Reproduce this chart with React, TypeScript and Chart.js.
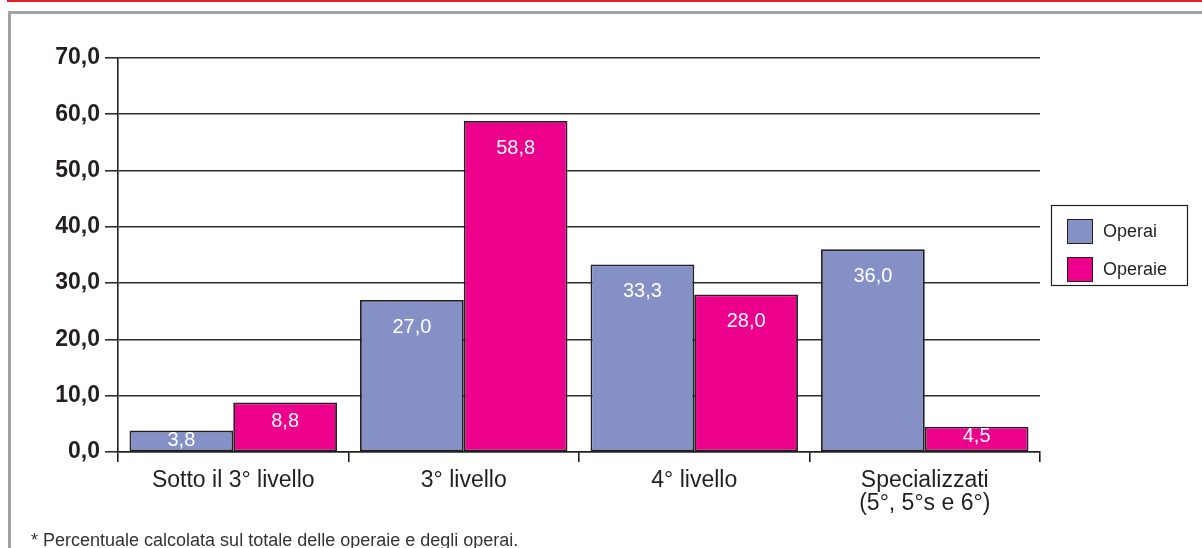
import React, { useEffect, useRef } from "react";
import { Chart, registerables } from "chart.js";

Chart.register(...registerables);

const categories: (string | string[])[] = [
  "Sotto il 3° livello",
  "3° livello",
  "4° livello",
  ["Specializzati", "(5°, 5°s e 6°)"],
];
const operai = [3.8, 27.0, 33.3, 36.0];
const operaie = [8.8, 58.8, 28.0, 4.5];
const seriesNames = ["Operai", "Operaie"];
const yTicks = [0, 10, 20, 30, 40, 50, 60, 70];
const footnote = "* Percentuale calcolata sul totale delle operaie e degli operai.";

const BLUE = "#8590C7";
const PINK = "#EC008C";
const DARK = "#231F20";
const FONT = "'Liberation Sans', Arial, Helvetica, sans-serif";

const fmt = (v: number) => v.toFixed(1).replace(".", ",");

const barLabels = {
  id: "barLabels",
  afterDatasetsDraw(chart: any) {
    const ctx = chart.ctx;
    ctx.save();
    ctx.fillStyle = "#ffffff";
    ctx.font = `20px ${FONT}`;
    ctx.textAlign = "center";
    ctx.textBaseline = "middle";
    chart.data.datasets.forEach((ds: any, di: number) => {
      const meta = chart.getDatasetMeta(di);
      meta.data.forEach((el: any, i: number) => {
        const h = el.base - el.y;
        const off = Math.min(27, Math.max(10, h * 0.4));
        ctx.fillText(fmt(ds.data[i]), el.x, el.y + off);
      });
    });
    ctx.restore();
  },
};

const boxLegend = {
  id: "boxLegend",
  afterDraw(chart: any) {
    const ctx = chart.ctx;
    ctx.save();
    ctx.strokeStyle = DARK;
    ctx.lineWidth = 1.2;
    ctx.strokeRect(1051.5, 205.5, 136, 80);
    chart.data.datasets.forEach((ds: any, i: number) => {
      const y = 219 + i * 38;
      ctx.fillStyle = ds.backgroundColor;
      ctx.fillRect(1067, y, 26, 25);
      ctx.strokeStyle = DARK;
      ctx.lineWidth = 1;
      ctx.strokeRect(1067.5, y + 0.5, 25, 24);
      ctx.fillStyle = DARK;
      ctx.font = `18px ${FONT}`;
      ctx.textAlign = "left";
      ctx.textBaseline = "middle";
      ctx.fillText(ds.label, 1103, y + 13);
    });
    ctx.restore();
  },
};

export default function App() {
  const ref = useRef<HTMLCanvasElement>(null);
  useEffect(() => {
    if (!ref.current) return;
    const chart = new Chart(ref.current, {
      type: "bar",
      data: {
        labels: categories,
        datasets: [
          {
            label: seriesNames[0],
            data: operai,
            backgroundColor: BLUE,
            borderColor: DARK,
            borderWidth: 1.8,
            borderSkipped: false,
          },
          {
            label: seriesNames[1],
            data: operaie,
            backgroundColor: PINK,
            borderColor: DARK,
            borderWidth: 1.8,
            borderSkipped: false,
          },
        ],
      },
      options: {
        animation: false,
        responsive: false,
        devicePixelRatio: 1,
        layout: { padding: { left: 0, right: 162, top: 58, bottom: 0 } },
        plugins: { legend: { display: false }, tooltip: { enabled: false } },
        datasets: { bar: { categoryPercentage: 0.9, barPercentage: 1 } },
        scales: {
          x: {
            offset: true,
            grid: {
              offset: true,
              drawOnChartArea: false,
              drawTicks: true,
              tickLength: 10,
              color: DARK,
              lineWidth: 1.6,
            },
            border: { display: true, color: DARK, width: 1.6 },
            ticks: {
              color: DARK,
              font: { family: FONT, size: 23, lineHeight: 1.0 },
              padding: 7,
              maxRotation: 0,
              autoSkip: false,
            },
            afterFit(scale: any) {
              scale.height = 96;
            },
          },
          y: {
            min: 0,
            max: 70,
            afterBuildTicks(scale: any) {
              scale.ticks = yTicks.map((v) => ({ value: v }));
            },
            grid: {
              color: "#2e2e2e",
              lineWidth: 1.6,
              drawTicks: true,
              tickLength: 13,
            },
            border: { display: true, color: DARK, width: 1.6 },
            ticks: {
              color: DARK,
              font: { family: FONT, size: 23, weight: "bold" },
              padding: 5,
              callback: (v: any) => fmt(Number(v)),
            },
            afterFit(scale: any) {
              scale.width = 118;
            },
          },
        },
      },
      plugins: [barLabels, boxLegend],
    });
    return () => chart.destroy();
  }, []);

  return (
    <div
      style={{
        position: "absolute",
        left: 0,
        top: 0,
        width: 1202,
        height: 548,
        overflow: "hidden",
        background: "#fff",
      }}
    >
      <div
        style={{
          position: "absolute",
          left: 7,
          top: 0,
          width: 1195,
          height: 2,
          background: "#E3202A",
        }}
      />
      <div
        style={{
          position: "absolute",
          left: 8,
          top: 11,
          width: 1300,
          height: 700,
          border: "3px solid #a3a3a3",
          boxSizing: "border-box",
        }}
      />
      <canvas
        ref={ref}
        width={1202}
        height={548}
        style={{ position: "absolute", left: 0, top: 0, width: 1202, height: 548 }}
      />
      <div
        style={{
          position: "absolute",
          left: 31,
          top: 530,
          fontFamily: FONT,
          fontSize: 18,
          color: "#333",
          whiteSpace: "nowrap",
          lineHeight: "20px",
        }}
      >
        {footnote}
      </div>
    </div>
  );
}
